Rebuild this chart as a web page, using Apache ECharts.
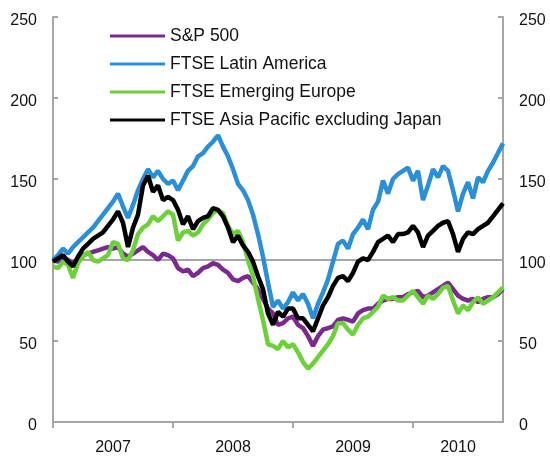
<!DOCTYPE html>
<html>
<head>
<meta charset="utf-8">
<script src="https://cdn.jsdelivr.net/npm/echarts@6/dist/echarts.min.js"></script>
<style>
  html, body { margin: 0; padding: 0; background: #fff; }
  #main { width: 550px; height: 456px; }
</style>
</head>
<body>
<div id="main"></div>
<script>
// semi-monthly observations starting Jan 2007
var startYear = 2007;
var pointsPerYear = 24;

var seriesNames = ["S&P 500", "FTSE Latin America", "FTSE Emerging Europe", "FTSE Asia Pacific excluding Japan"];

var sp500 = [100, 99, 101, 100, 98, 101, 103, 104, 105, 106, 107, 108, 107, 108, 104, 102, 104, 106, 108, 105,
  103, 100, 104, 103, 101, 95, 93, 94, 90, 92, 95, 96, 98, 97, 94, 92, 88, 87, 89, 90,
  86, 82, 76, 70, 67, 60, 61, 64, 65, 60, 58, 53, 47, 53, 57, 58, 59, 63, 64, 63,
  62, 67, 69, 70, 70, 73, 75, 76, 76, 77, 77, 79, 80, 81, 77, 78, 80, 82, 84, 86,
  82, 78, 76, 75, 76, 74, 76, 77, 77, 79, 82];

var latinAmerica = [100, 103, 107, 104, 108, 111, 114, 117, 120, 124, 128, 132, 136, 141, 133, 126, 134, 143, 150, 156,
  151, 155, 150, 147, 149, 143, 149, 155, 158, 164, 166, 170, 173, 177, 170, 164, 156, 147, 143, 137,
  128, 116, 102, 86, 71, 75, 70, 74, 80, 75, 79, 73, 64, 73, 80, 88, 99, 110, 112, 107,
  116, 120, 125, 119, 131, 136, 149, 141, 150, 153, 155, 157, 149, 155, 137, 146, 156, 151, 158, 155,
  143, 130, 141, 148, 138, 151, 148, 155, 160, 166, 172];

var emergingEurope = [96, 95, 99, 97, 89, 98, 102, 105, 100, 99, 101, 103, 111, 110, 101, 100, 106, 116, 120, 122,
  127, 124, 127, 130, 128, 112, 117, 118, 115, 117, 122, 125, 129, 131, 129, 121, 116, 118, 111, 100,
  90, 76, 63, 48, 47, 45, 50, 46, 48, 43, 37, 33, 36, 40, 44, 48, 53, 61, 61, 57,
  54, 60, 64, 65, 68, 71, 78, 76, 77, 75, 75, 78, 81, 77, 73, 78, 76, 79, 83, 84,
  75, 67, 72, 69, 74, 77, 73, 75, 77, 80, 83];

var asiaPacific = [99, 101, 103, 99, 96, 102, 107, 110, 113, 115, 117, 121, 125, 130, 123, 108, 120, 128, 146, 152,
  142, 146, 137, 139, 137, 131, 122, 127, 119, 124, 126, 127, 132, 131, 127, 120, 111, 115, 109, 105,
  99, 90, 82, 67, 60, 68, 65, 70, 70, 64, 64, 60, 56, 64, 72, 77, 84, 89, 90, 87,
  92, 99, 101, 100, 105, 111, 113, 115, 111, 116, 116, 117, 121, 117, 108, 115, 118, 121, 123, 124,
  116, 105, 113, 117, 116, 119, 121, 123, 127, 131, 135];

var yearTicks = [2007, 2008, 2009, 2010];
var yearLabelPos = [2007.5, 2008.5, 2009.5, 2010.375];
var yTicks = [0, 50, 100, 150, 200, 250];
var baseLevel = 100;

var colors = ["#7a2a8e", "#2a8fd6", "#6cd03a", "#000000"];

function toPoints(values) {
  return values.map(function (v, i) {
    return [startYear + i / pointsPerYear, v];
  });
}

var xMax = startYear + (sp500.length - 1) / pointsPerYear;

var chart = echarts.init(document.getElementById("main"));

var axisColor = "#a6a6a6";

function yAxisFor(pos) {
  return {
    type: "value",
    position: pos,
    min: yTicks[0],
    max: yTicks[yTicks.length - 1],
    interval: 50,
    axisLine: { show: true, lineStyle: { color: axisColor, width: 2 } },
    axisTick: { show: true, inside: true, length: 5, lineStyle: { color: axisColor, width: 2 } },
    axisLabel: {
      color: "#111",
      fontSize: 16,
      fontFamily: "Liberation Sans, Arial, sans-serif",
      margin: 16,
      verticalAlign: "top",
      lineHeight: 8
    },
    splitLine: { show: false }
  };
}

var lineSeries = [sp500, latinAmerica, emergingEurope, asiaPacific].map(function (vals, k) {
  return {
    name: seriesNames[k],
    type: "line",
    data: toPoints(vals),
    showSymbol: false,
    symbol: "none",
    lineStyle: { color: colors[k], width: 4.5 },
    itemStyle: { color: colors[k] },
    z: 3
  };
});

// gray reference line at 100, drawn under the series
var baseSeries = {
  name: "base",
  type: "line",
  data: [[startYear, baseLevel], [xMax, baseLevel]],
  showSymbol: false,
  symbol: "none",
  silent: true,
  lineStyle: { color: axisColor, width: 2 },
  z: 1
};

chart.setOption({
  animation: false,
  backgroundColor: "#ffffff",
  grid: { left: 53, right: 47, top: 17, bottom: 32, containLabel: false },
  legend: {
    data: seriesNames,
    orient: "vertical",
    left: 105,
    top: 21,
    itemWidth: 55,
    itemHeight: 3,
    itemGap: 8,
    icon: "rect",
    textStyle: {
      color: "#111",
      fontSize: 17.5,
      lineHeight: 20,
      fontFamily: "Liberation Sans, Arial, sans-serif"
    }
  },
  xAxis: {
    type: "value",
    min: startYear,
    max: xMax,
    axisLine: { show: true, lineStyle: { color: axisColor, width: 2 } },
    axisTick: {
      show: true,
      length: 6,
      customValues: yearTicks,
      lineStyle: { color: axisColor, width: 2 }
    },
    axisLabel: {
      customValues: yearLabelPos,
      formatter: function (v) { return String(Math.floor(v)); },
      color: "#111",
      fontSize: 16,
      fontFamily: "Liberation Sans, Arial, sans-serif",
      margin: 18
    },
    splitLine: { show: false }
  },
  yAxis: [yAxisFor("left"), yAxisFor("right")],
  series: [baseSeries].concat(lineSeries)
});
</script>
</body>
</html>
